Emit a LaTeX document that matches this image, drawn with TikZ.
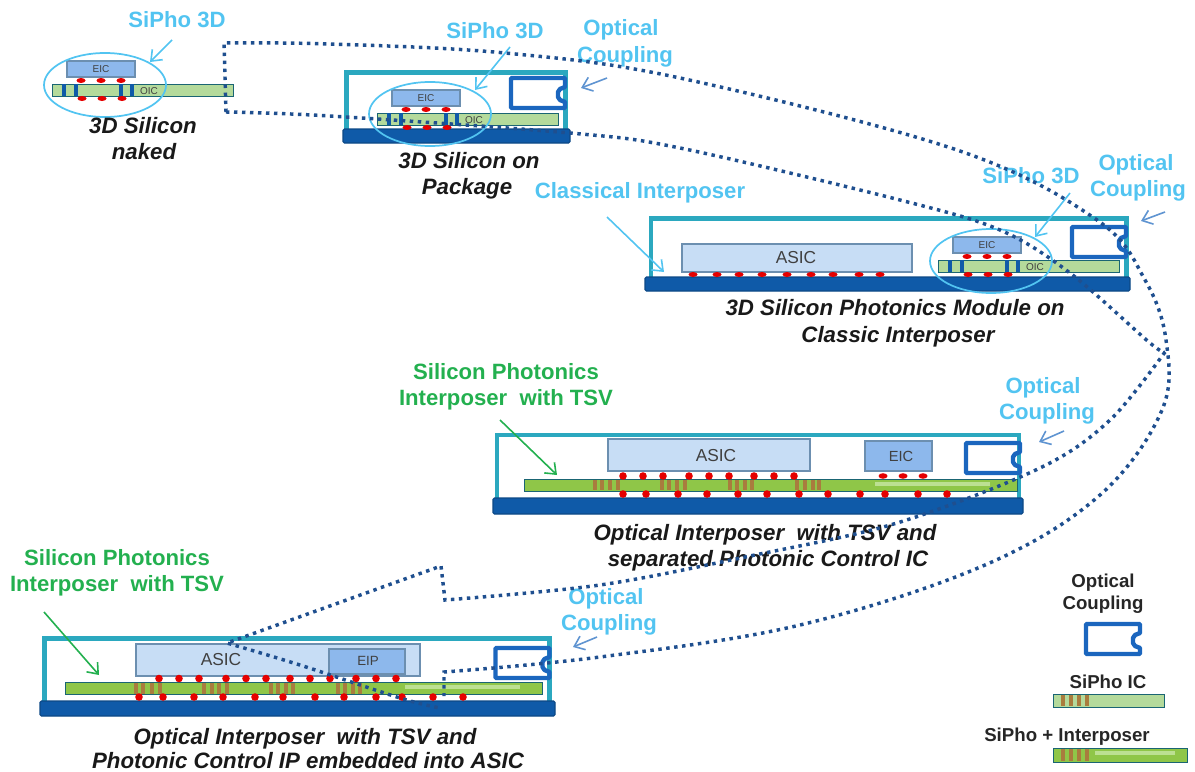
\documentclass[tikz,border=0pt]{standalone}
\usepackage{fontspec}
\setmainfont{Liberation Sans}
\usetikzlibrary{arrows.meta}
\definecolor{labelblue}{HTML}{52C4F1}
\definecolor{labelgreen}{HTML}{23B04F}
\definecolor{framecyan}{HTML}{2BA8BF}
\definecolor{basedark}{HTML}{0F5AA8}
\definecolor{dotblue}{HTML}{1F4F8F}
\definecolor{couplerblue}{HTML}{1B66BE}
\definecolor{palegreen}{HTML}{B4DA9B}
\definecolor{midgreen}{HTML}{8FC648}
\definecolor{striplight}{HTML}{BCE092}
\definecolor{tsvbrown}{HTML}{A97C3E}
\definecolor{eicblue}{HTML}{8DB8EC}
\definecolor{asicblue}{HTML}{C7DDF5}
\definecolor{boxedge}{HTML}{6C8FB0}
\tikzset{
  bluelabel/.style={text=labelblue,font=\fontsize{16.6}{18}\selectfont\bfseries,inner sep=0pt,text height=12pt,text depth=0pt},
  greenlabel/.style={text=labelgreen,font=\fontsize{16.6}{18}\selectfont\bfseries,inner sep=0pt,text height=12pt,text depth=0pt},
  blacklabel/.style={text=black!85,font=\fontsize{14}{16}\selectfont\bfseries,inner sep=0pt,text height=10pt,text depth=0pt},
  caption/.style={text=black!90,font=\fontsize{16.7}{18}\selectfont\bfseries\itshape,inner sep=0pt,text height=12pt,text depth=0pt},
  chiptext/.style={text=black!75,inner sep=0pt},
  framebar/.style={draw=framecyan,line width=3.6pt},
  basebar/.style={fill=basedark,draw=basedark!80!black,line width=0.8pt,rounded corners=1pt},
  eicbox/.style={fill=eicblue,draw=boxedge,line width=0.8pt},
  asicbox/.style={fill=asicblue,draw=boxedge,line width=0.8pt},
  oicbar/.style={fill=palegreen,draw=framecyan!60!black,line width=0.7pt},
  interbar/.style={fill=midgreen,draw=framecyan!60!black,line width=0.7pt},
  via/.style={fill=basedark},
  tsv/.style={fill=tsvbrown},
  bump/.style={fill=red!90!black},
  bubble/.style={draw=labelblue,line width=1.3pt},
  bluearrow/.style={draw=labelblue,line width=1.2pt,-{Straight Barb[length=7pt,width=11pt]}},
  greenarrow/.style={draw=labelgreen,line width=1.2pt,-{Straight Barb[length=7pt,width=11pt]}},
  navyarrow/.style={draw=couplerblue!70!white,line width=1.2pt,-{Straight Barb[length=7pt,width=11pt]}},
  dotline/.style={draw=dotblue,line width=2.6pt,dash pattern=on 2.6pt off 3.4pt},
  coupler/.pic={
    \draw[draw=couplerblue,line width=3.3pt,line join=bevel] (0,0) -- (54,0) -- (54,9)
      -- (49,11) -- (47,14) -- (47,19) -- (49,22) -- (54,24) -- (54,30) -- (0,30) -- cycle;
  },
  sipho3d/.pic={
    \fill[oicbar] (-15,23) rectangle (166,35);
    \foreach \x in {-3,9,54,65} \fill[via] (\x-2,23) rectangle (\x+2,35);
    \draw[eicbox] (0,0) rectangle (68,16);
    \node[chiptext,font=\fontsize{7.5}{9}\selectfont] (-eic) at (34,8) {EIC};
    \node[chiptext,font=\fontsize{7.5}{9}\selectfont] (-oic) at (82,30) {OIC};
    \foreach \x in {14,34,54} {
      \fill[bump] (\x,19.5) ellipse [x radius=4.5,y radius=2.5];
      \fill[bump] (\x+1,37.5) ellipse [x radius=4.5,y radius=2.5];
    }
    \draw[bubble] (38,24) ellipse [x radius=61,y radius=32];
  },
}
\begin{document}
\begin{tikzpicture}[x=0.75pt,y=-0.75pt]
\useasboundingbox (0,0) rectangle (1195,771);
% First module, bare
\pic (nakedchip) at (67,61) {sipho3d};
\node[bluelabel] (nakedsipho) at (177,19) {SiPho 3D};
\coordinate (nakedfrom) at (172,40);
\coordinate (nakedto) at (150,62);
\draw[bluearrow] (nakedfrom) -- (nakedto);
\node[caption] (nakedcapa) at (143,125) {3D Silicon};
\node[caption] (nakedcapb) at (144,151) {naked};
% Second module, on package
\draw[framebar] (346.5,131) -- (346.5,72.5) -- (565.5,72.5) -- (565.5,130);
\fill[basebar] (343,129) rectangle (570,143);
\pic (pkgcoupler) at (511,78) {coupler};
\pic (pkgchip) at (392,90) {sipho3d};
\node[bluelabel] (pkgsipho) at (495,30) {SiPho 3D};
\node[bluelabel] (pkgopta) at (621,27) {Optical};
\node[bluelabel] (pkgoptb) at (625,54) {Coupling};
\coordinate (pkgfrom) at (510,47);
\coordinate (pkgto) at (475,90);
\draw[bluearrow] (pkgfrom) -- (pkgto);
\coordinate (pkgoptfrom) at (607,78);
\coordinate (pkgoptto) at (581,88);
\draw[navyarrow] (pkgoptfrom) -- (pkgoptto);
\node[caption] (pkgcapa) at (469,160) {3D Silicon on};
\node[caption] (pkgcapb) at (467,186) {Package};
% Third module, classic interposer
\draw[framebar] (651,278) -- (651,218.5) -- (1126.5,218.5) -- (1126.5,278);
\fill[basebar] (645,277) rectangle (1130,291);
\draw[asicbox] (682,244) rectangle (912,272);
\node[chiptext,font=\fontsize{13}{15}\selectfont] (clsasic) at (796,258) {ASIC};
\foreach \x in {693,717,739,762,787,811,833,859,880}
  \fill[bump] (\x,274.5) ellipse [x radius=4.5,y radius=2.5];
\pic (clscoupler) at (1072,227) {coupler};
\pic (clschip) at (953,237) {sipho3d};
\node[bluelabel] (clsinter) at (640,190) {Classical Interposer};
\node[bluelabel] (clssipho) at (1031,175) {SiPho 3D};
\node[bluelabel] (clsopta) at (1136,162) {Optical};
\node[bluelabel] (clsoptb) at (1138,188) {Coupling};
\coordinate (clsinterfrom) at (607,217);
\coordinate (clsinterto) at (664,272);
\draw[bluearrow] (clsinterfrom) -- (clsinterto);
\coordinate (clsfrom) at (1070,193);
\coordinate (clsto) at (1035,237);
\draw[bluearrow] (clsfrom) -- (clsto);
\coordinate (clsoptfrom) at (1165,212);
\coordinate (clsoptto) at (1141,221);
\draw[navyarrow] (clsoptfrom) -- (clsoptto);
\node[caption] (clscapa) at (895,307) {3D Silicon Photonics Module on};
\node[caption] (clscapb) at (898,334) {Classic Interposer};
% Fourth module, separated control IC
\draw[framebar] (497,500) -- (497,435) -- (1019,435) -- (1019,500);
\fill[basebar] (493,498) rectangle (1023,514);
\fill[interbar] (524,479) rectangle (1017,491);
\fill[striplight] (875,482) rectangle (990,486);
\foreach \x in {595,602,610,618,662,669,677,685,730,737,745,752,797,805,813,819}
  \fill[tsv] (\x-2,480) rectangle (\x+2,490);
\draw[asicbox] (608,439) rectangle (810,471);
\node[chiptext,font=\fontsize{13}{15}\selectfont] (sepasic) at (716,456) {ASIC};
\draw[eicbox] (865,441) rectangle (932,471);
\node[chiptext,font=\fontsize{11}{13}\selectfont] (sepeic) at (901,456) {EIC};
\foreach \x in {623,643,663,689,709,729,754,774,794}
  \fill[bump] (\x,476) circle [radius=3.8];
\foreach \x in {883,903,923}
  \fill[bump] (\x,476) ellipse [x radius=4.5,y radius=2.8];
\foreach \x in {623,646,678,707,738,767,799,828,860,885,918,947}
  \fill[bump] (\x,494) circle [radius=3.8];
\pic (sepcoupler) at (966,443) {coupler};
\node[bluelabel] (sepopta) at (1043,385) {Optical};
\node[bluelabel] (sepoptb) at (1047,411) {Coupling};
\node[greenlabel] (sepsila) at (506,371) {Silicon Photonics};
\node[greenlabel] (sepsilb) at (506,397) {Interposer\ \ with TSV};
\coordinate (sepsilfrom) at (500,420);
\coordinate (sepsilto) at (557,475);
\draw[greenarrow] (sepsilfrom) -- (sepsilto);
\coordinate (sepoptfrom) at (1064,431);
\coordinate (sepoptto) at (1039,442);
\draw[navyarrow] (sepoptfrom) -- (sepoptto);
\node[caption] (sepcapa) at (765,532) {Optical Interposer\ \ with TSV and};
\node[caption] (sepcapb) at (768,558) {separated Photonic Control IC};
% Fifth module, control IP in the ASIC
\draw[framebar] (44.5,703) -- (44.5,638.5) -- (549.5,638.5) -- (549.5,703);
\fill[basebar] (40,701) rectangle (555,716);
\fill[interbar] (65,682) rectangle (542,694);
\fill[striplight] (405,685) rectangle (520,689);
\foreach \x in {136,143,152,160,204,212,219,227,271,278,286,293,338,345,353,360}
  \fill[tsv] (\x-2,683) rectangle (\x+2,694);
\draw[asicbox] (136,644) rectangle (420,676);
\draw[eicbox] (329,649) rectangle (405,674);
\node[chiptext,font=\fontsize{13}{15}\selectfont] (embasic) at (221,660) {ASIC};
\node[chiptext,font=\fontsize{10}{12}\selectfont] (embeip) at (368,661) {EIP};
\foreach \x in {159,179,199,226,246,266,290,310,330,356,376,396}
  \fill[bump] (\x,678.5) circle [radius=3.8];
\foreach \x in {139,163,194,223,255,283,315,344,376,402,433,463}
  \fill[bump] (\x,697) circle [radius=3.8];
\pic (embcoupler) at (495.5,648) {coupler};
\node[bluelabel] (embopta) at (606,596) {Optical};
\node[bluelabel] (emboptb) at (609,622) {Coupling};
\node[greenlabel] (embsila) at (117,557) {Silicon Photonics};
\node[greenlabel] (embsilb) at (117,583) {Interposer\ \ with TSV};
\coordinate (embsilfrom) at (44,612);
\coordinate (embsilto) at (99,675);
\draw[greenarrow] (embsilfrom) -- (embsilto);
\coordinate (emboptfrom) at (597,637);
\coordinate (emboptto) at (573,647);
\draw[navyarrow] (emboptfrom) -- (emboptto);
\node[caption] (embcapa) at (305,736) {Optical Interposer\ \ with TSV and};
\node[caption] (embcapb) at (308,760) {Photonic Control IP embedded into ASIC};
% Legend
\node[blacklabel] (keyopta) at (1103,581) {Optical};
\node[blacklabel] (keyoptb) at (1103,603) {Coupling};
\pic (keycoupler) at (1086,624) {coupler};
\node[blacklabel] (keysipho) at (1108,682) {SiPho IC};
\fill[oicbar] (1053,694) rectangle (1164,707);
\node[blacklabel] (keyinter) at (1067,735) {SiPho + Interposer};
\fill[interbar] (1053,748) rectangle (1187,762);
\fill[striplight] (1095,751) rectangle (1175,755);
\foreach \x in {1063,1071,1079,1087} {
  \fill[tsv] (\x-2,695) rectangle (\x+2,706);
  \fill[tsv] (\x-2,749) rectangle (\x+2,761);
}
% Dotted outlines of the nesting
\coordinate (conetop) at (224,43);
\coordinate (conelow) at (226,112);
\coordinate (apexb) at (1165,352);
\coordinate (lipa) at (444,672);
\coordinate (lipb) at (444,696);
\coordinate (stepa) at (445,600);
\coordinate (stepb) at (441,566);
\coordinate (asictip) at (227,643);
\coordinate (asicend) at (440,708);
\draw[dotline] (conelow) -- (conetop) -- plot[smooth,tension=0.6] coordinates
  {(conetop) (330,44) (505,53) (680,78) (957,150) (1097,220) (1145,280) (1166,340)
   (1162,410) (1100,495) (985,565) (800,625) (600,657) (lipa)} -- (lipb);
\draw[dotline] plot[smooth,tension=0.55] coordinates
  {(conelow) (330,116) (570,133) (680,148) (900,200) (1000,230) (1070,273) (1150,343) (apexb)};
\draw[dotline] plot[smooth,tension=0.55] coordinates
  {(apexb) (1110,420) (1040,468) (897,523) (750,556) (600,585) (stepa)} -- (stepb) -- (asictip)
  -- plot[smooth,tension=0.55] coordinates {(asictip) (300,665) (400,698) (asicend)};
\end{tikzpicture}
\end{document}
